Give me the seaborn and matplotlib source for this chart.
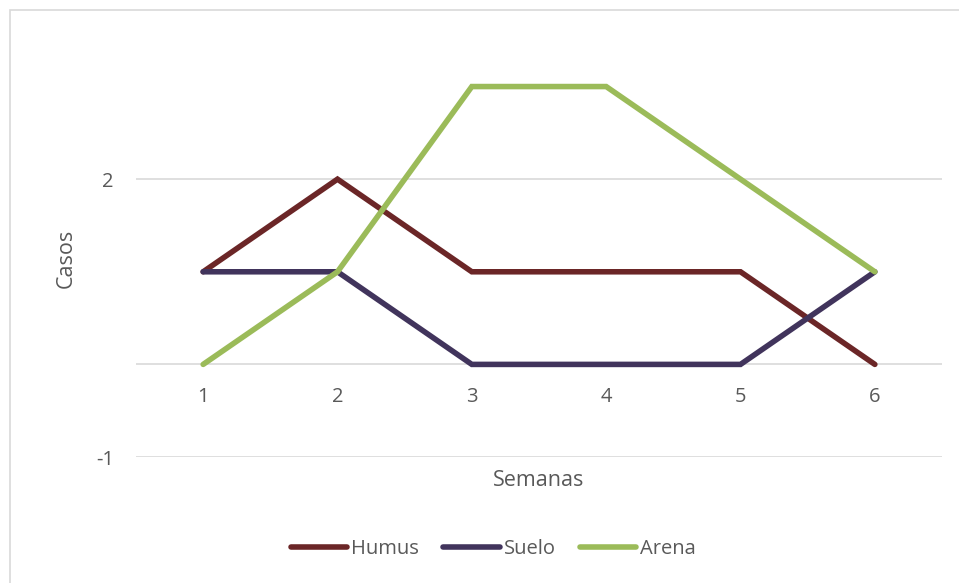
import matplotlib.pyplot as plt
import matplotlib.patches as mpatches
import seaborn as sns
import pandas as pd

semanas = [1, 2, 3, 4, 5, 6]
humus = [1, 2, 1, 1, 1, 0]
suelo = [1, 1, 0, 0, 0, 1]
arena = [0, 1, 3, 3, 2, 1]

series = ["Humus", "Suelo", "Arena"]
colores = ["#6B2627", "#41345C", "#9BBB59"]

df = pd.DataFrame({"Semanas": semanas, "Humus": humus, "Suelo": suelo, "Arena": arena})
df = df.melt(id_vars="Semanas", var_name="Serie", value_name="Casos")

sns.set_style("white")
plt.rcParams["font.family"] = ["Open Sans", "DejaVu Sans"]
plt.rcParams["axes.unicode_minus"] = False
gris = "#595959"

fig = plt.figure(figsize=(9.59, 5.83), dpi=100)
ax = fig.add_axes([0.1418, 0.2161, 0.8405, 0.6831])

# chart border
fig.patches.append(mpatches.Rectangle((10 / 959, -0.1), 1.1, 1 - 10 / 583 + 0.1,
                                      transform=fig.transFigure, fill=False,
                                      edgecolor="#D9D9D9", linewidth=1.2, zorder=0))

sns.lineplot(data=df, x="Semanas", y="Casos", hue="Serie", hue_order=series,
             palette=colores, linewidth=4, ax=ax, legend=False,
             solid_capstyle="round", solid_joinstyle="miter", clip_on=False)

ax.set_xlim(0.5, 6.5)
ax.set_ylim(-1, 3.3)
ax.set_yticks([-1, 2])
ax.set_xticks([])
for y in [-1, 0, 2]:
    ax.axhline(y, color="#D9D9D9", linewidth=1.2, zorder=0)
for x in semanas:
    ax.text(x, -0.35, str(x), ha="center", va="center", fontsize=14.5, color=gris)

for s in ax.spines.values():
    s.set_visible(False)
ax.tick_params(axis="y", length=0, pad=16, labelsize=14.5, labelcolor=gris)
ax.set_ylabel("Casos", fontsize=15.5, color=gris, labelpad=14)
ax.set_xlabel("")
fig.text(539 / 959, 1 - 480 / 583, "Semanas", ha="center", va="center", fontsize=15.5, color=gris)

handles = [plt.Line2D([], [], color=c, linewidth=4, solid_capstyle="round") for c in colores]
fig.legend(handles, series, loc="center", bbox_to_anchor=(493.5 / 959, 1 - 549 / 583), ncol=3,
           frameon=False, fontsize=14.5, labelcolor=gris, handlelength=2.8,
           handletextpad=0.2, columnspacing=1.2)

fig.savefig("out.png", dpi=100)
